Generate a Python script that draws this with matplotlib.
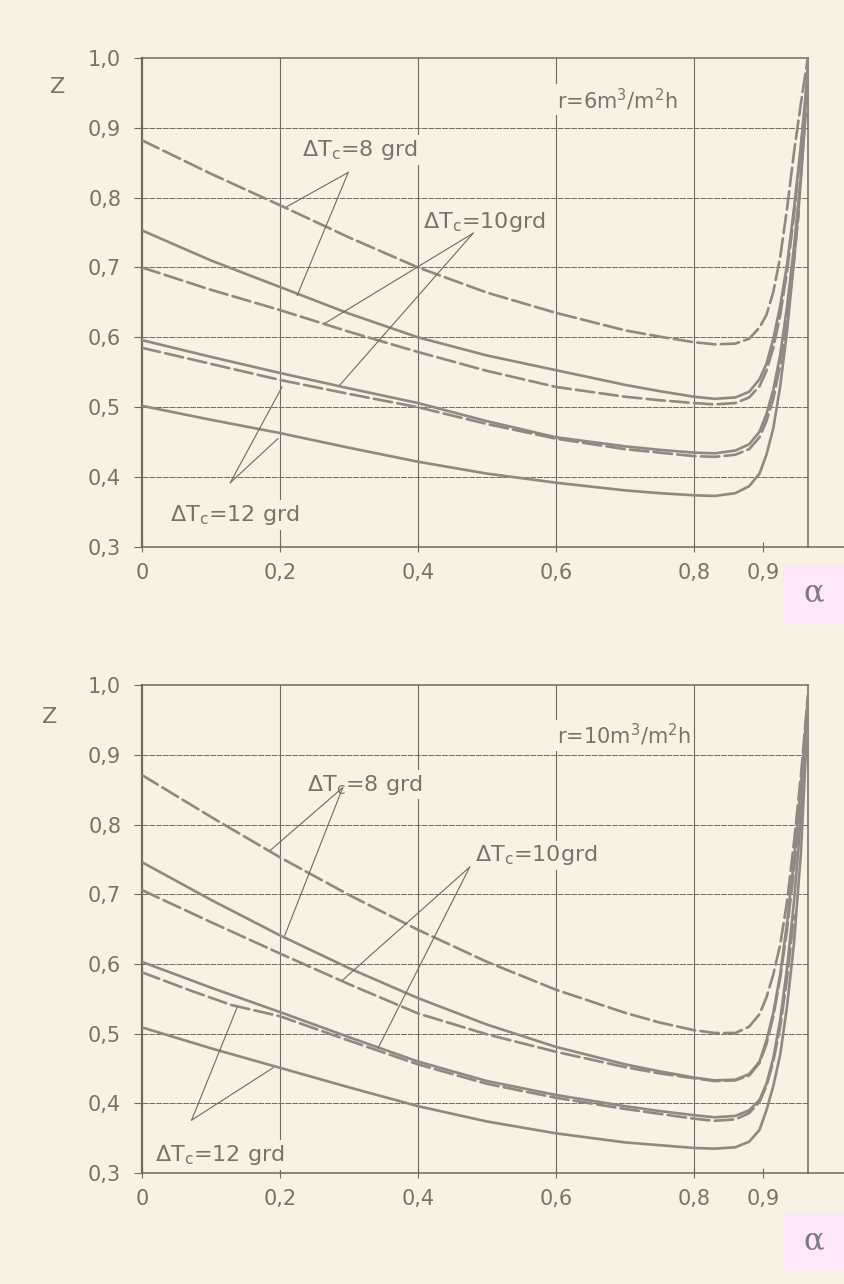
import matplotlib.pyplot as plt
from matplotlib.patches import Rectangle
from matplotlib.ticker import FixedLocator, FuncFormatter

plt.rcParams['font.family'] = ['DejaVu Sans']
plt.rcParams['mathtext.fontset'] = 'dejavusans'

# ---- data: upper panel, r = 6 m3/m2h ----
r6_dt8_dash_x = [0, 0.1, 0.2, 0.3, 0.4, 0.5, 0.6, 0.7, 0.75, 0.8, 0.83, 0.86, 0.88, 0.895, 0.905, 0.915, 0.925, 0.935, 0.945, 0.955, 0.965]
r6_dt8_dash_z = [0.882, 0.834, 0.789, 0.743, 0.700, 0.664, 0.635, 0.610, 0.601, 0.593, 0.590, 0.591, 0.598, 0.614, 0.632, 0.665, 0.715, 0.785, 0.865, 0.935, 1.0]
r6_dt8_solid_x = [0, 0.1, 0.2, 0.3, 0.4, 0.5, 0.6, 0.7, 0.75, 0.8, 0.83, 0.86, 0.88, 0.895, 0.905, 0.915, 0.925, 0.935, 0.945, 0.955, 0.965]
r6_dt8_solid_z = [0.753, 0.710, 0.672, 0.634, 0.600, 0.574, 0.553, 0.532, 0.523, 0.515, 0.512, 0.514, 0.522, 0.540, 0.562, 0.598, 0.645, 0.705, 0.785, 0.875, 0.980]
r6_dt10_dash_x = [0, 0.1, 0.2, 0.3, 0.4, 0.5, 0.6, 0.7, 0.75, 0.8, 0.83, 0.86, 0.88, 0.895, 0.905, 0.915, 0.925, 0.935, 0.945, 0.955, 0.965]
r6_dt10_dash_z = [0.700, 0.668, 0.639, 0.608, 0.579, 0.552, 0.529, 0.515, 0.510, 0.506, 0.504, 0.506, 0.514, 0.530, 0.552, 0.585, 0.632, 0.695, 0.775, 0.870, 0.975]
r6_dt10_solid_x = [0, 0.1, 0.2, 0.3, 0.4, 0.5, 0.6, 0.7, 0.75, 0.8, 0.83, 0.86, 0.88, 0.895, 0.905, 0.915, 0.925, 0.935, 0.945, 0.955, 0.962]
r6_dt10_solid_z = [0.596, 0.572, 0.549, 0.527, 0.506, 0.480, 0.457, 0.444, 0.439, 0.435, 0.434, 0.438, 0.447, 0.465, 0.490, 0.525, 0.575, 0.645, 0.730, 0.830, 0.920]
r6_dt12_dash_x = [0, 0.1, 0.2, 0.3, 0.4, 0.5, 0.6, 0.7, 0.75, 0.8, 0.83, 0.86, 0.88, 0.895, 0.905, 0.915, 0.925, 0.935, 0.945, 0.952]
r6_dt12_dash_z = [0.585, 0.562, 0.539, 0.519, 0.500, 0.476, 0.455, 0.440, 0.435, 0.430, 0.429, 0.432, 0.440, 0.457, 0.480, 0.512, 0.560, 0.625, 0.710, 0.780]
r6_dt12_solid_x = [0, 0.1, 0.2, 0.3, 0.4, 0.5, 0.6, 0.7, 0.75, 0.8, 0.83, 0.86, 0.88, 0.895, 0.905, 0.915, 0.925, 0.935, 0.945, 0.953, 0.96, 0.965]
r6_dt12_solid_z = [0.502, 0.482, 0.463, 0.442, 0.422, 0.405, 0.392, 0.381, 0.377, 0.374, 0.373, 0.377, 0.387, 0.405, 0.432, 0.470, 0.530, 0.610, 0.710, 0.800, 0.900, 0.990]

# ---- lower panel, r = 10 m3/m2h ----
r10_dt8_dash_x = [0, 0.1, 0.2, 0.3, 0.4, 0.5, 0.6, 0.7, 0.75, 0.8, 0.83, 0.86, 0.88, 0.895, 0.905, 0.915, 0.925, 0.935, 0.945, 0.955, 0.965]
r10_dt8_dash_z = [0.871, 0.811, 0.753, 0.699, 0.649, 0.603, 0.563, 0.530, 0.516, 0.505, 0.501, 0.501, 0.510, 0.528, 0.552, 0.585, 0.628, 0.690, 0.775, 0.870, 0.985]
r10_dt8_solid_x = [0, 0.1, 0.2, 0.3, 0.4, 0.5, 0.6, 0.7, 0.75, 0.8, 0.83, 0.86, 0.88, 0.895, 0.905, 0.915, 0.925, 0.935, 0.945, 0.955, 0.965]
r10_dt8_solid_z = [0.746, 0.692, 0.641, 0.594, 0.551, 0.513, 0.481, 0.456, 0.446, 0.437, 0.433, 0.434, 0.442, 0.460, 0.490, 0.530, 0.585, 0.660, 0.750, 0.855, 0.980]
r10_dt10_dash_x = [0, 0.1, 0.2, 0.3, 0.4, 0.5, 0.6, 0.7, 0.75, 0.8, 0.83, 0.86, 0.88, 0.895, 0.905, 0.915, 0.925, 0.935, 0.945, 0.955]
r10_dt10_dash_z = [0.706, 0.660, 0.615, 0.571, 0.529, 0.499, 0.474, 0.452, 0.443, 0.436, 0.432, 0.433, 0.440, 0.458, 0.485, 0.525, 0.580, 0.650, 0.735, 0.840]
r10_dt10_solid_x = [0, 0.1, 0.2, 0.3, 0.4, 0.5, 0.6, 0.7, 0.75, 0.8, 0.83, 0.86, 0.88, 0.895, 0.905, 0.915, 0.925, 0.935, 0.945, 0.955, 0.965]
r10_dt10_solid_z = [0.603, 0.566, 0.531, 0.495, 0.460, 0.432, 0.412, 0.396, 0.389, 0.383, 0.380, 0.382, 0.390, 0.405, 0.428, 0.465, 0.520, 0.595, 0.690, 0.810, 0.960]
r10_dt12_dash_x = [0, 0.07, 0.13, 0.2, 0.3, 0.4, 0.5, 0.6, 0.7, 0.75, 0.8, 0.83, 0.86, 0.88, 0.895, 0.905, 0.915, 0.925, 0.935, 0.945]
r10_dt12_dash_z = [0.588, 0.562, 0.541, 0.525, 0.490, 0.456, 0.428, 0.408, 0.392, 0.385, 0.378, 0.375, 0.377, 0.386, 0.402, 0.425, 0.460, 0.510, 0.580, 0.670]
r10_dt12_solid_x = [0, 0.1, 0.2, 0.3, 0.4, 0.5, 0.6, 0.7, 0.75, 0.8, 0.83, 0.86, 0.88, 0.895, 0.905, 0.915, 0.925, 0.935, 0.945, 0.955, 0.965]
r10_dt12_solid_z = [0.509, 0.479, 0.451, 0.423, 0.396, 0.374, 0.357, 0.344, 0.340, 0.336, 0.335, 0.337, 0.345, 0.362, 0.390, 0.425, 0.470, 0.540, 0.630, 0.760, 0.960]

x_ticks = [0, 0.2, 0.4, 0.6, 0.8, 0.9]
y_ticks = [0.3, 0.4, 0.5, 0.6, 0.7, 0.8, 0.9, 1.0]
dt_labels = ['8 grd', '10grd', '12 grd']

PAPER = '#f7f2e3'
INK = '#6f6a63'
CURVE = '#8e8982'
TEXT = '#78736c'
DASH = (0, (7, 2))


# decimal comma, "1,0" kept with its decimal
def comma(v, pos):
    if v == 1.0:
        return '1,0'
    return ('%g' % v).replace('.', ',')


def panel(ax, curves, r_label, r_pos, label_pos, pointers):
    ax.set_facecolor(PAPER)
    ax.set_xlim(0, 0.965)
    ax.set_ylim(0.3, 1.0)

    # grid (only the round values, no line at 0.9)
    for gx in [0.2, 0.4, 0.6, 0.8]:
        ax.axvline(gx, color=INK, lw=0.8, zorder=1)
    for gy in [0.4, 0.5, 0.6, 0.7, 0.8, 0.9]:
        ax.axhline(gy, color=INK, lw=0.7, ls=(0, (6, 1)), zorder=1)

    for x, z, ls in curves:
        ax.plot(x, z, color=CURVE, lw=1.9, ls=ls, solid_capstyle='round',
                dash_capstyle='round', solid_joinstyle='round', zorder=4)

    ax.xaxis.set_major_locator(FixedLocator(x_ticks))
    ax.yaxis.set_major_locator(FixedLocator(y_ticks))
    ax.xaxis.set_major_formatter(FuncFormatter(comma))
    ax.yaxis.set_major_formatter(FuncFormatter(comma))
    ax.tick_params(axis='y', length=6, width=0.8, color=INK, pad=9,
                   labelsize=15, labelcolor=TEXT)
    ax.tick_params(axis='x', length=7, width=0.8, color=INK, pad=8,
                   direction='inout', labelsize=15, labelcolor=TEXT)
    for s in ax.spines.values():
        s.set_color(INK)
        s.set_linewidth(1.1)
    ax.spines['left'].set_linewidth(1.6)
    ax.plot([1, 1.06], [0, 0], transform=ax.transAxes, color=INK, lw=1.1,
            clip_on=False)

    box = dict(boxstyle='square,pad=0.12', fc=PAPER, ec='none')
    ax.text(r_pos[0], r_pos[1], r_label, fontsize=15, color=TEXT,
            ha='left', va='center', bbox=box, zorder=3)

    for lab, (tx, ty), (apex, ends) in zip(dt_labels, label_pos, pointers):
        ax.text(tx, ty, r'ΔT$_\mathrm{c}$=' + lab, fontsize=16, color=TEXT,
                ha='left', va='center', bbox=box, zorder=3)
        for ex, ey in ends:
            ax.plot([apex[0], ex], [apex[1], ey], color=INK, lw=0.8, zorder=5)


fig = plt.figure(figsize=(8.45, 12.84), dpi=100)
fig.patch.set_facecolor(PAPER)

ax1 = fig.add_axes([0.168, 0.574, 0.788, 0.381])
panel(ax1,
      [(r6_dt8_dash_x, r6_dt8_dash_z, DASH), (r6_dt8_solid_x, r6_dt8_solid_z, '-'),
       (r6_dt10_dash_x, r6_dt10_dash_z, DASH), (r6_dt10_solid_x, r6_dt10_solid_z, '-'),
       (r6_dt12_dash_x, r6_dt12_dash_z, DASH), (r6_dt12_solid_x, r6_dt12_solid_z, '-')],
      r'r=6m$^3$/m$^2$h', (0.601, 0.94),
      [(0.232, 0.868), (0.407, 0.765), (0.041, 0.346)],
      [((0.299, 0.836), [(0.21, 0.787), (0.225, 0.66)]),
       ((0.48, 0.749), [(0.265, 0.62), (0.287, 0.532)]),
       ((0.128, 0.392), [(0.203, 0.529), (0.197, 0.455)])])

ax2 = fig.add_axes([0.168, 0.0864, 0.788, 0.380])
panel(ax2,
      [(r10_dt8_dash_x, r10_dt8_dash_z, DASH), (r10_dt8_solid_x, r10_dt8_solid_z, '-'),
       (r10_dt10_dash_x, r10_dt10_dash_z, DASH), (r10_dt10_solid_x, r10_dt10_solid_z, '-'),
       (r10_dt12_dash_x, r10_dt12_dash_z, DASH), (r10_dt12_solid_x, r10_dt12_solid_z, '-')],
      r'r=10m$^3$/m$^2$h', (0.601, 0.928),
      [(0.239, 0.857), (0.483, 0.756), (0.019, 0.326)],
      [((0.291, 0.853), [(0.186, 0.763), (0.207, 0.641)]),
       ((0.475, 0.739), [(0.291, 0.577), (0.342, 0.479)]),
       ((0.072, 0.376), [(0.138, 0.538), (0.19, 0.451)])])

# axis name "Z" and the pink "alpha" boxes
fig.text(58 / 845, 1 - 87 / 1284, 'Z', fontsize=16, color=TEXT, ha='center', va='center')
fig.text(50 / 845, 1 - 717 / 1284, 'Z', fontsize=16, color=TEXT, ha='center', va='center')
for top in [565, 1213]:
    fig.patches.append(Rectangle((783 / 845, 1 - (top + 58) / 1284), 62 / 845, 58 / 1284,
                                 transform=fig.transFigure, fc='#fce8fa', ec='none'))
    fig.text(814 / 845, 1 - (top + 28) / 1284, 'α', family='DejaVu Serif',
             fontsize=22, color='#7a7a80', ha='center', va='center')

fig.savefig('out.png', dpi=100, facecolor=PAPER)
